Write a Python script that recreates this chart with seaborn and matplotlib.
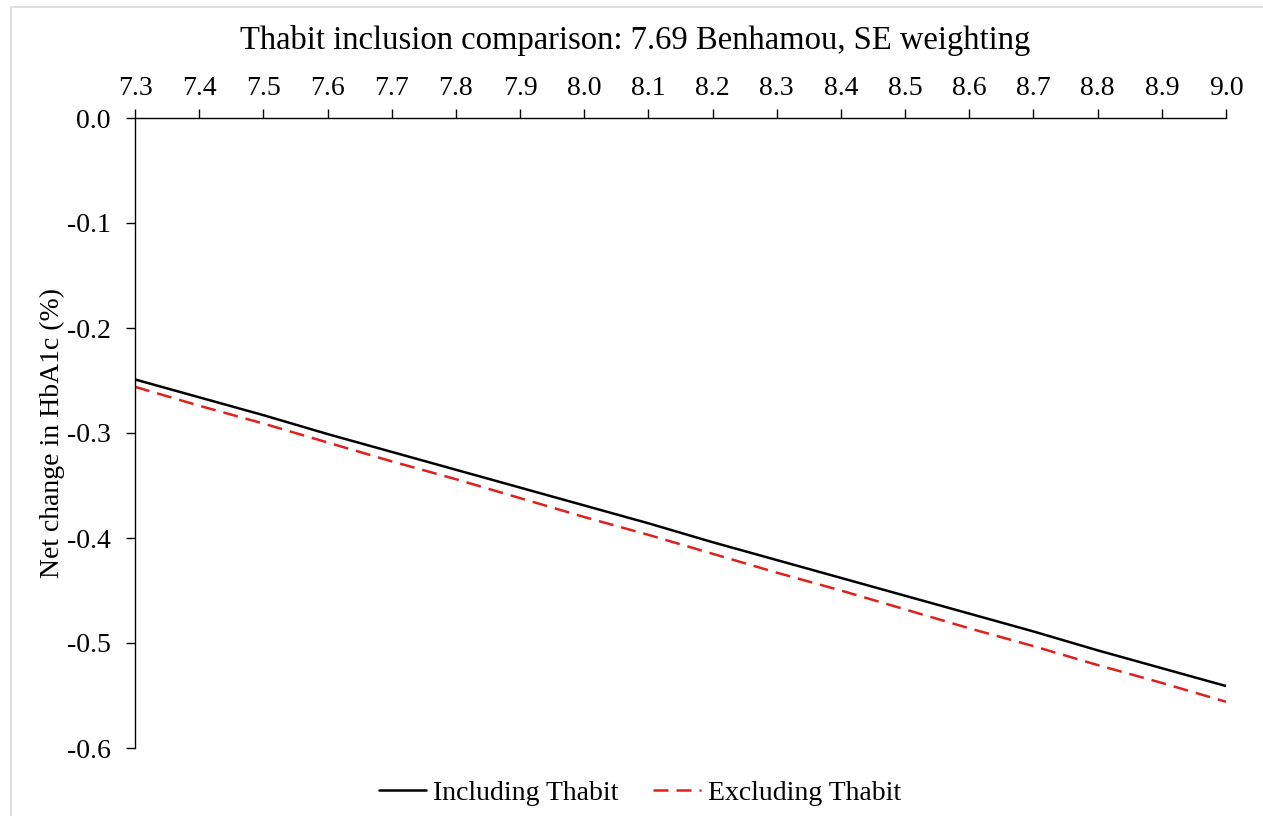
import matplotlib
matplotlib.use("Agg")
import matplotlib.pyplot as plt
import seaborn as sns
import pandas as pd
from matplotlib.patches import Rectangle
from matplotlib.lines import Line2D

baseline_hba1c = [7.3, 7.4, 7.5, 7.6, 7.7, 7.8, 7.9, 8.0, 8.1, 8.2, 8.3, 8.4,
                  8.5, 8.6, 8.7, 8.8, 8.9, 9.0]
including_thabit = [-0.249, -0.266, -0.283, -0.301, -0.318, -0.335, -0.352, -0.369,
                    -0.386, -0.404, -0.421, -0.438, -0.455, -0.472, -0.489, -0.507,
                    -0.524, -0.541]
excluding_thabit = [-0.256, -0.274, -0.291, -0.309, -0.327, -0.344, -0.362, -0.380,
                    -0.397, -0.415, -0.433, -0.450, -0.468, -0.486, -0.503, -0.521,
                    -0.538, -0.556]
series_names = ["Including Thabit", "Excluding Thabit"]
x_ticks = [7.3, 7.4, 7.5, 7.6, 7.7, 7.8, 7.9, 8.0, 8.1, 8.2, 8.3, 8.4, 8.5, 8.6,
           8.7, 8.8, 8.9, 9.0]
y_ticks = [0.0, -0.1, -0.2, -0.3, -0.4, -0.5, -0.6]
title = "Thabit inclusion comparison: 7.69 Benhamou, SE weighting"
y_label = "Net change in HbA1c (%)"

df = pd.DataFrame({
    "x": baseline_hba1c * 2,
    "y": including_thabit + excluding_thabit,
    "series": [series_names[0]] * len(baseline_hba1c) + [series_names[1]] * len(baseline_hba1c),
})

sns.set_style("white")
plt.rcParams["font.family"] = ["Liberation Serif", "DejaVu Serif"]
for k in ["text.color", "axes.labelcolor", "xtick.color", "ytick.color"]:
    plt.rcParams[k] = "black"

RED = "#e0201b"
LW = 1.8
DASH = (6.0, 3.2)

W, H = 1263, 816
fig = plt.figure(figsize=(W / 100, H / 100), dpi=100)
fig.patches.append(Rectangle((11 / W, -0.05), (W - 11) / W + 0.05, 1.05 - 7 / H,
                             transform=fig.transFigure, fill=False,
                             edgecolor="#d9d9d9", linewidth=1.2))
ax = fig.add_axes([135 / W, 1 - 748 / H, (1226 - 135) / W, (748 - 118) / H])

sns.lineplot(data=df, x="x", y="y", hue="series", style="series",
             palette={series_names[0]: "black", series_names[1]: RED},
             dashes={series_names[0]: "", series_names[1]: DASH},
             linewidth=LW, ax=ax, legend=False)

ax.set_xlim(7.3, 9.0)
ax.set_ylim(-0.6, 0.0)
ax.xaxis.tick_top()
ax.set_xticks(x_ticks)
ax.set_xticklabels([f"{v:.1f}" for v in x_ticks])
ax.set_yticks(y_ticks)
ax.set_yticklabels([f"{v:.1f}" for v in y_ticks])
ax.tick_params(axis="x", which="both", top=True, bottom=False, direction="out",
               length=6.5, width=1, labelsize=20, pad=6)
ax.tick_params(axis="y", which="both", left=True, direction="out",
               length=6.5, width=1, labelsize=20, pad=11)
ax.set_xlabel("")
ax.set_ylabel(y_label, fontsize=20, labelpad=1)
for s in ["right", "bottom"]:
    ax.spines[s].set_visible(False)
for s in ["top", "left"]:
    ax.spines[s].set_visible(True)
    ax.spines[s].set_color("black")
    ax.spines[s].set_linewidth(1.0)

fig.text(635 / W, 1 - 41 / H, title, ha="center", va="center", fontsize=23.5)

handles = [Line2D([], [], color="black", linewidth=LW),
           Line2D([], [], color=RED, linewidth=LW, dashes=DASH)]
fig.legend(handles, series_names, loc="center", bbox_to_anchor=(640 / W, 1 - 793 / H),
           ncol=2, frameon=False, fontsize=20, handlelength=1.7, handletextpad=0.25,
           columnspacing=1.25)

fig.savefig("out.png", dpi=100)
